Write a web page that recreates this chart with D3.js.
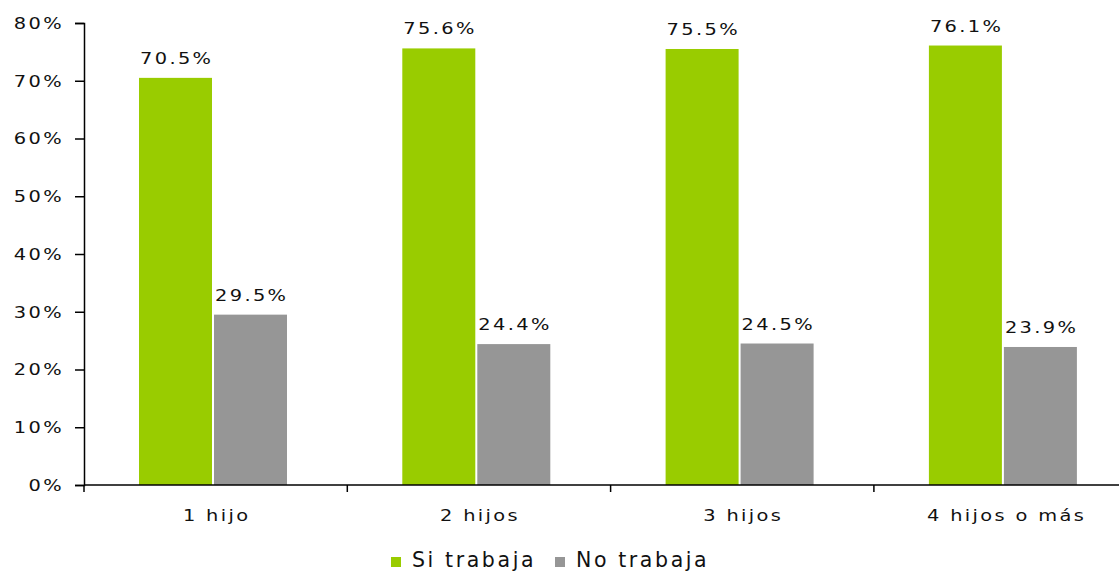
<!DOCTYPE html>
<html>
<head>
<meta charset="utf-8">
<script src="https://cdn.jsdelivr.net/npm/d3@7"></script>
<style>
  body { margin: 0; background: #fff; }
  text { font-family: "DejaVu Sans", Verdana, sans-serif; fill: #111; letter-spacing: 2px; }
</style>
</head>
<body>
<div id="chart"></div>
<script>
const categories = ["1 hijo", "2 hijos", "3 hijos", "4 hijos o más"];
const series = ["Si trabaja", "No trabaja"];
const siTrabaja = [70.5, 75.6, 75.5, 76.1];
const noTrabaja = [29.5, 24.4, 24.5, 23.9];
const yTicks = [0, 10, 20, 30, 40, 50, 60, 70, 80];
const colors = ["#99cc00", "#969696"];

const w = 1119, h = 573;
const padLeft = 84, baseY = 485, topY = 23;
const sx = 1.176; // the original text is drawn a bit wide

const rows = categories.map((c, i) => ({ cat: c, vals: [siTrabaja[i], noTrabaja[i]] }));

const svg = d3.select('#chart').append('svg')
  .attr('width', w).attr('height', h);

const x0 = d3.scaleBand().domain(categories).range([padLeft, padLeft + 4 * 263.3]);
const x1 = d3.scaleBand().domain(series).range([55, 205]);
const y = d3.scaleLinear().domain([0, 80]).range([baseY, topY]);

const at = (x, yy) => 'translate(' + x + ',' + yy + ') scale(' + sx + ',1)';

// bars
const g = svg.selectAll('g.grp').data(rows).enter().append('g')
  .attr('class', 'grp')
  .attr('transform', d => 'translate(' + x0(d.cat) + ',0)');

g.selectAll('rect').data(d => d.vals.map((v, j) => ({ s: series[j], v: v, j: j })))
  .enter().append('rect')
  .attr('x', d => x1(d.s))
  .attr('y', d => y(d.v))
  .attr('width', x1.bandwidth() - 2)
  .attr('height', d => baseY - y(d.v))
  .attr('fill', d => colors[d.j]);

g.selectAll('text.val').data(d => d.vals.map((v, j) => ({ s: series[j], v: v })))
  .enter().append('text')
  .attr('class', 'val')
  .attr('transform', d => at(x1(d.s) + (x1.bandwidth() - 2) / 2 + 1.2, y(d.v) - 14))
  .attr('text-anchor', 'middle')
  .attr('font-size', 16.5)
  .text(d => d.v.toFixed(1) + '%');

// y axis
const yAxis = d3.axisLeft(y).tickValues(yTicks).tickFormat(d => d + '%').tickSize(9);
const ya = svg.append('g').attr('transform', 'translate(' + padLeft + ',0)').call(yAxis);
ya.select('.domain').attr('stroke', '#000').attr('stroke-width', 1.5);
ya.selectAll('.tick line').attr('stroke', '#000').attr('stroke-width', 1.5);
ya.selectAll('.tick text')
  .attr('x', null)
  .attr('transform', at(-20, 0))
  .attr('font-size', 16.5).attr('fill', '#111')
  .style('font-family', '"DejaVu Sans", Verdana, sans-serif');

// x axis
const xa = svg.append('g').attr('transform', 'translate(0,' + baseY + ')');
xa.append('line').attr('x1', padLeft).attr('x2', w).attr('stroke', '#000').attr('stroke-width', 1.5);
xa.selectAll('line.tk').data(categories).enter().append('line')
  .attr('class', 'tk')
  .attr('x1', d => x0(d)).attr('x2', d => x0(d))
  .attr('y1', 0).attr('y2', 7)
  .attr('stroke', '#000').attr('stroke-width', 1.5);
xa.selectAll('text').data(categories).enter().append('text')
  .attr('transform', d => at(x0(d) + x0.bandwidth() / 2 + 1, 36))
  .attr('text-anchor', 'middle')
  .attr('font-size', 16.5)
  .text(d => d);

// legend
const leg = svg.append('g').attr('transform', 'translate(391,0)');
const legX = [0, 164];
series.forEach((s, i) => {
  leg.append('rect').attr('x', legX[i]).attr('y', 557).attr('width', 10).attr('height', 10).attr('fill', colors[i]);
  leg.append('text').attr('x', legX[i] + 21).attr('y', 567)
    .attr('font-size', 20.5).style('letter-spacing', '2.6px').text(s);
});
</script>
</body>
</html>
